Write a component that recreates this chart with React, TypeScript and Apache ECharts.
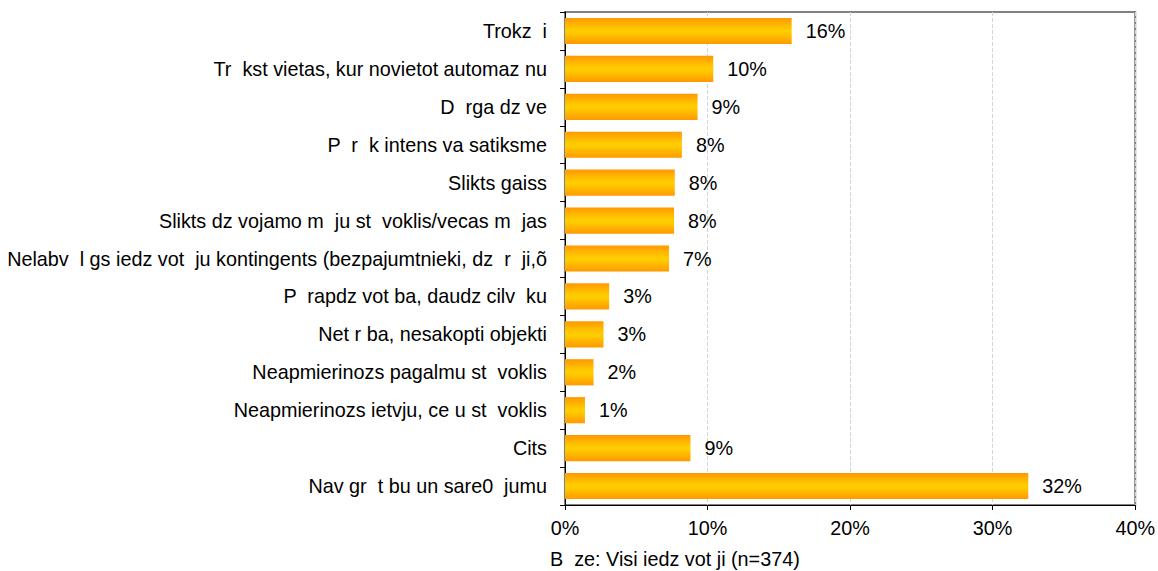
import React, { useEffect, useRef } from "react";
import * as echarts from "echarts";

const categories = [
  "Trokz  i",
  "Tr  kst vietas, kur novietot automaz nu",
  "D  rga dz ve",
  "P  r  k intens va satiksme",
  "Slikts gaiss",
  "Slikts dz vojamo m  ju st  voklis/vecas m  jas",
  "Nelabv  l gs iedz vot  ju kontingents (bezpajumtnieki, dz  r  ji,õ",
  "P  rapdz vot ba, daudz cilv  ku",
  "Net r ba, nesakopti objekti",
  "Neapmierinozs pagalmu st  voklis",
  "Neapmierinozs ietvju, ce u st  voklis",
  "Cits",
  "Nav gr  t bu un sare0  jumu",
];
const values = [15.9, 10.4, 9.3, 8.2, 7.7, 7.65, 7.3, 3.1, 2.7, 2.0, 1.4, 8.8, 32.5];
const valueLabels = ["16%", "10%", "9%", "8%", "8%", "8%", "7%", "3%", "3%", "2%", "1%", "9%", "32%"];
const xTicks = [0, 10, 20, 30, 40];
const axisTitle = "B  ze: Visi iedz vot ji (n=374)";

const FONT = "'Liberation Sans', Arial, sans-serif";
const FS = 19.8;

export default function App() {
  const ref = useRef<HTMLDivElement>(null);
  useEffect(() => {
    if (!ref.current) return;
    const chart = echarts.init(ref.current, undefined, { renderer: "svg" });
    const grad = new echarts.graphic.LinearGradient(0, 0, 0, 1, [
      { offset: 0, color: "#FF9900" },
      { offset: 0.45, color: "#FFCC00" },
      { offset: 0.55, color: "#FFCC00" },
      { offset: 1, color: "#FF9900" },
    ]);
    chart.setOption({
      animation: false,
      backgroundColor: "#ffffff",
      textStyle: { fontFamily: FONT },
      grid: {
        left: 565,
        right: 22,
        top: 12,
        bottom: 66,
        show: true,
        borderColor: "#808080",
        borderWidth: 2,
        containLabel: false,
      },
      xAxis: {
        type: "value",
        min: xTicks[0],
        max: xTicks[xTicks.length - 1],
        interval: 10,
        axisLine: { show: true, lineStyle: { color: "#000", width: 1 } },
        axisTick: { show: true, length: 5, lineStyle: { color: "#000" } },
        axisLabel: {
          formatter: "{value}%",
          color: "#000",
          fontSize: FS,
          fontFamily: FONT,
          margin: 13,
        },
        splitLine: { show: true, lineStyle: { color: "#d4d4d4", type: "dashed" } },
      },
      yAxis: {
        type: "category",
        data: categories,
        inverse: true,
        axisLine: { show: true, lineStyle: { color: "#000", width: 1 } },
        axisTick: { show: true, length: 5, alignWithLabel: false, lineStyle: { color: "#000" } },
        axisLabel: { color: "#000", fontSize: FS, fontFamily: FONT, margin: 18 },
        splitLine: { show: false },
      },
      series: [
        {
          type: "bar",
          data: values,
          barCategoryGap: "31%",
          itemStyle: { color: grad },
          label: {
            show: true,
            position: "right",
            distance: 14,
            color: "#000",
            fontSize: FS,
            fontFamily: FONT,
            formatter: (p: any) => valueLabels[p.dataIndex],
          },
        },
      ],
      graphic: [
        {
          type: "text",
          left: 550,
          top: 549,
          style: { text: axisTitle, fill: "#000", fontSize: FS, fontFamily: FONT },
        },
      ],
    });
    return () => chart.dispose();
  }, []);
  return <div ref={ref} style={{ width: 1158, height: 571, position: "absolute", left: 0, top: 0 }} />;
}
